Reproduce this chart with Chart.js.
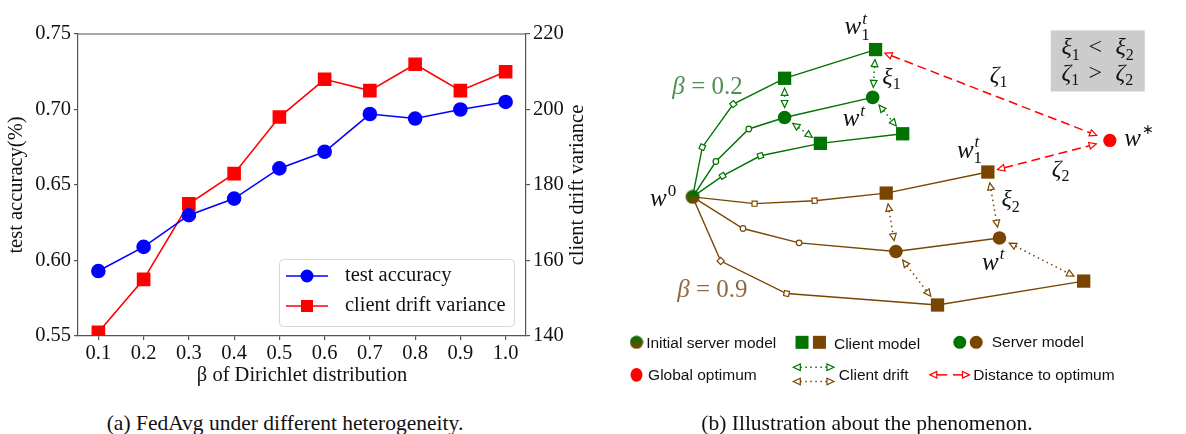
<!DOCTYPE html>
<html>
<head>
<meta charset="utf-8">
<script src="https://cdn.jsdelivr.net/npm/chart.js@4.4.1/dist/chart.umd.min.js"></script>
<style>
  body { margin: 0; background: #fff; }
  #page { position: relative; width: 1186px; height: 434px; overflow: hidden; background: #fff; }
  .cap { position: absolute; top: 410px; font: 21.5px 'Liberation Serif', 'Times New Roman', serif; color: #111;
         white-space: nowrap; transform: translateX(-50%); line-height: 26px; }
</style>
</head>
<body>
<div id="page">
  <div style="position:absolute;left:0;top:0;width:600px;height:390px"><canvas id="left"></canvas></div>
  <div style="position:absolute;left:600px;top:0;width:586px;height:434px"><canvas id="right"></canvas></div>
  <div class="cap" style="left:285px">(a) FedAvg under different heterogeneity.</div>
  <div class="cap" style="left:867px">(b) Illustration about the phenomenon.</div>
</div>
<script>
// ---- panel (a) data ----
var betas = [0.1, 0.2, 0.3, 0.4, 0.5, 0.6, 0.7, 0.8, 0.9, 1.0];
var testAccuracy = [0.593, 0.609, 0.630, 0.641, 0.661, 0.672, 0.697, 0.694, 0.700, 0.705];
var driftVariance = [141, 155, 175, 183, 198, 208, 205, 212, 205, 210];
var accTicks = [0.55, 0.60, 0.65, 0.70, 0.75];
var varTicks = [140, 160, 180, 200, 220];

// ---- panel (b) illustration points (drawing units = page pixels) ----
var greenClientA = [[686, 196], [696, 144], [728, 99], [781, 72], [875, 42]];
var greenServer  = [[686, 196], [710, 159], [744, 125], [781, 113], [872, 92]];
var greenClientB = [[686, 196], [717, 174], [756, 153], [818, 140], [903, 130]];
var brownClientA = [[686, 196], [750, 203], [812, 200], [886, 192], [991, 170]];
var brownServer  = [[686, 196], [738, 229], [796, 244], [896, 253], [1003, 239]];
var brownClientB = [[686, 196], [715, 263], [783, 297], [939, 309], [1090, 284]];
var initModel = [686, 196];
var globalOptimum = [1117, 137];

var serif = "'Liberation Serif', 'Times New Roman', serif";
var sans = "'Liberation Sans', Arial, sans-serif";
var axisGray = '#555555';
var green = '#007300';
var brown = '#7a4500';
var red = '#ff0000';
var fs = 20.5;

function ticksFrom(list) {
  return function (scale) { scale.ticks = list.map(function (v) { return { value: v }; }); };
}

// frame, right axis title and inner legend for panel (a)
var frameLegend = {
  id: 'frameLegend',
  afterDraw: function (chart) {
    var ctx = chart.ctx, a = chart.chartArea;
    ctx.save();
    ctx.strokeStyle = axisGray;
    ctx.lineWidth = 1.2;
    ctx.beginPath();
    ctx.moveTo(a.left, a.top); ctx.lineTo(a.right, a.top);
    ctx.stroke();

    // right axis title, reading bottom to top
    ctx.save();
    ctx.translate(578, (a.top + a.bottom) / 2);
    ctx.rotate(-Math.PI / 2);
    ctx.font = fs + 'px ' + serif;
    ctx.fillStyle = '#111';
    ctx.textAlign = 'center';
    ctx.textBaseline = 'middle';
    ctx.fillText('client drift variance', 0, 0);
    ctx.restore();

    // legend box
    ctx.beginPath();
    ctx.roundRect(279.5, 259.5, 235, 67, 4);
    ctx.fillStyle = 'rgba(255,255,255,0.85)';
    ctx.fill();
    ctx.strokeStyle = '#d6d6d6';
    ctx.lineWidth = 1;
    ctx.stroke();

    chart.data.datasets.forEach(function (ds, i) {
      var y = 276 + i * 30;
      ctx.strokeStyle = ds.borderColor;
      ctx.lineWidth = 1.6;
      ctx.beginPath(); ctx.moveTo(286, y); ctx.lineTo(328, y); ctx.stroke();
      ctx.fillStyle = ds.backgroundColor;
      if (ds.pointStyle === 'rect') {
        ctx.fillRect(301, y - 6, 12, 12);
      } else {
        ctx.beginPath(); ctx.arc(307, y, 6.5, 0, Math.PI * 2); ctx.fill();
      }
      ctx.fillStyle = '#111';
      ctx.font = fs + 'px ' + serif;
      ctx.textBaseline = 'middle';
      ctx.fillText(ds.label, 345, y);
    });
    ctx.restore();
  }
};

new Chart(document.getElementById('left'), {
  type: 'line',
  data: {
    datasets: [
      {
        label: 'test accuracy',
        data: betas.map(function (b, i) { return { x: b, y: testAccuracy[i] }; }),
        yAxisID: 'y',
        borderColor: '#0000ff', backgroundColor: '#0000ff',
        borderWidth: 1.6, pointStyle: 'circle', pointRadius: 6.5, pointHoverRadius: 6.5
      },
      {
        label: 'client drift variance',
        data: betas.map(function (b, i) { return { x: b, y: driftVariance[i] }; }),
        yAxisID: 'y1',
        borderColor: '#ff0000', backgroundColor: '#ff0000',
        borderWidth: 1.6, pointStyle: 'rect', pointRadius: 8.5, pointHoverRadius: 8.5
      }
    ]
  },
  options: {
    responsive: true, maintainAspectRatio: false, animation: false, devicePixelRatio: 1,
    layout: { padding: { top: 34, left: 0, right: 0, bottom: 0 } },
    plugins: { legend: { display: false }, tooltip: { enabled: false } },
    scales: {
      x: {
        type: 'linear', min: 0.055, max: 1.045,
        afterBuildTicks: ticksFrom(betas),
        afterFit: function (s) { s.height = 54; },
        grid: { drawOnChartArea: false, tickLength: 4, color: axisGray, lineWidth: 1.2 },
        border: { color: axisGray, width: 1.2 },
        ticks: { font: { family: serif, size: fs }, color: '#111', padding: 1, maxRotation: 0, autoSkip: false,
                 callback: function (v) { return v.toFixed(1); } },
        title: { display: true, text: 'β of Dirichlet distribution', font: { family: serif, size: fs }, color: '#111',
                 padding: { top: 0, bottom: 2 } }
      },
      y: {
        position: 'left', min: 0.55, max: 0.75,
        afterBuildTicks: ticksFrom(accTicks),
        afterFit: function (s) { s.width = 78; },
        grid: { drawOnChartArea: false, tickLength: 4, color: axisGray, lineWidth: 1.2 },
        border: { color: axisGray, width: 1.2 },
        ticks: { font: { family: serif, size: fs }, color: '#111', padding: 3,
                 callback: function (v) { return v.toFixed(2); } },
        title: { display: true, text: 'test accuracy(%)', font: { family: serif, size: fs }, color: '#111',
                 padding: { top: 4, bottom: 0 } }
      },
      y1: {
        position: 'right', min: 140, max: 220,
        afterBuildTicks: ticksFrom(varTicks),
        afterFit: function (s) { s.width = 74; },
        grid: { drawOnChartArea: false, tickLength: 4, color: axisGray, lineWidth: 1.2 },
        border: { color: axisGray, width: 1.2 },
        ticks: { font: { family: serif, size: fs }, color: '#111', padding: 3 },
        title: { display: false }
      }
    }
  },
  plugins: [frameLegend]
});

// ---------------- panel (b) ----------------
var initImg = document.createElement('canvas');
initImg.width = 15; initImg.height = 15;
(function () {
  var gc = initImg.getContext('2d');
  var grad = gc.createLinearGradient(0, 0, 0, 15);
  grad.addColorStop(0, green); grad.addColorStop(1, brown);
  gc.fillStyle = grad;
  gc.beginPath(); gc.arc(7.5, 7.5, 7, 0, Math.PI * 2); gc.fill();
})();

// kinds of marks along each path
var clientKinds = ['none', 'step', 'step', 'model', 'model'];
var serverKinds = ['none', 'dot', 'dot', 'server', 'server'];

function pathDataset(pts, kinds, color) {
  var rot = pts.map(function (p, i) {
    var a = pts[Math.max(0, i - 1)], b = pts[Math.min(pts.length - 1, i + 1)];
    return Math.atan2(b[1] - a[1], b[0] - a[0]) * 180 / Math.PI;
  });
  return {
    data: pts.map(function (p) { return { x: p[0], y: p[1] }; }),
    showLine: true, borderColor: color, borderWidth: 1.4, tension: 0,
    pointStyle: kinds.map(function (k) { return (k === 'step' || k === 'model') ? 'rect' : 'circle'; }),
    pointRadius: kinds.map(function (k) {
      return { none: 0, step: 3.6, dot: 2.8, model: 9.4, server: 6.8 }[k];
    }),
    pointRotation: kinds.map(function (k, i) { return k === 'step' ? rot[i] : 0; }),
    pointBackgroundColor: kinds.map(function (k) { return (k === 'step' || k === 'dot') ? '#ffffff' : color; }),
    pointBorderColor: color,
    pointBorderWidth: kinds.map(function (k) { return (k === 'step' || k === 'dot') ? 1.2 : 0; }),
    pointHoverRadius: 0
  };
}

var driftGreen = [[greenClientA[3], greenServer[3]], [greenServer[3], greenClientB[3]],
                  [greenClientA[4], greenServer[4]], [greenServer[4], greenClientB[4]]];
var driftBrown = [[brownClientA[3], brownServer[3]], [brownServer[3], brownClientB[3]],
                  [brownClientA[4], brownServer[4]], [brownServer[4], brownClientB[4]]];
var distancePairs = [[greenClientA[4], globalOptimum], [brownClientA[4], globalOptimum]];

function tri(ctx, tx, ty, ux, uy, color) {
  var bx = tx - ux * 7, by = ty - uy * 7, px = -uy, py = ux;
  ctx.beginPath();
  ctx.moveTo(tx, ty);
  ctx.lineTo(bx + px * 3.3, by + py * 3.3);
  ctx.lineTo(bx - px * 3.3, by - py * 3.3);
  ctx.closePath();
  ctx.fillStyle = '#fff'; ctx.fill();
  ctx.strokeStyle = color; ctx.lineWidth = 1.2; ctx.setLineDash([]); ctx.stroke();
}

function arrow(ctx, x1, y1, x2, y2, color, dash, s1, s2, lw) {
  var dx = x2 - x1, dy = y2 - y1, L = Math.hypot(dx, dy), ux = dx / L, uy = dy / L;
  var ax = x1 + ux * s1, ay = y1 + uy * s1, bx = x2 - ux * s2, by = y2 - uy * s2;
  ctx.save();
  ctx.strokeStyle = color; ctx.lineWidth = lw; ctx.setLineDash(dash);
  ctx.beginPath(); ctx.moveTo(ax + ux * 7, ay + uy * 7); ctx.lineTo(bx - ux * 7, by - uy * 7); ctx.stroke();
  tri(ctx, ax, ay, -ux, -uy, color);
  tri(ctx, bx, by, ux, uy, color);
  ctx.restore();
}

// math-like label: main glyph, then sup and/or sub stacked after it
function sym(ctx, x, y, main, sup, sub, color, size) {
  ctx.save();
  ctx.fillStyle = color || '#111';
  ctx.textBaseline = 'alphabetic';
  ctx.font = 'italic ' + size + 'px ' + serif;
  ctx.fillText(main, x, y);
  var w = ctx.measureText(main).width;
  var small = Math.round(size * 0.68);
  var extra = 0;
  if (sup) {
    var star = sup === '∗';
    ctx.font = (/[0-9∗]/.test(sup) ? '' : 'italic ') + (star ? Math.round(size * 0.55) : small) + 'px ' + serif;
    ctx.fillText(sup, x + w + 1, y - size * (star ? 0.5 : 0.42));
    extra = Math.max(extra, ctx.measureText(sup).width + 1);
  }
  if (sub) {
    ctx.font = small + 'px ' + serif;
    ctx.fillText(sub, x + w, y + size * 0.22);
    extra = Math.max(extra, ctx.measureText(sub).width);
  }
  ctx.restore();
  return w + extra;
}

var illustrate = {
  id: 'illustrate',
  beforeDatasetsDraw: function (chart) {
    var ctx = chart.ctx, X = chart.scales.x, Y = chart.scales.y;
    function px(p) { return [X.getPixelForValue(p[0]), Y.getPixelForValue(p[1])]; }
    ctx.save();
    // comparison box
    ctx.fillStyle = '#cccccc';
    ctx.fillRect(X.getPixelForValue(1056), Y.getPixelForValue(22), 94, 61);
    ctx.restore();

    driftGreen.forEach(function (pr) {
      var a = px(pr[0]), b = px(pr[1]);
      arrow(ctx, a[0], a[1], b[0], b[1], green, [1.5, 3.5], 10, 10, 1.5);
    });
    driftBrown.forEach(function (pr) {
      var a = px(pr[0]), b = px(pr[1]);
      arrow(ctx, a[0], a[1], b[0], b[1], brown, [1.5, 3.5], 11, 11, 1.5);
    });
    distancePairs.forEach(function (pr) {
      var a = px(pr[0]), b = px(pr[1]);
      arrow(ctx, a[0], a[1], b[0], b[1], red, [9, 5], 10, 14, 1.5);
    });
  },
  afterDatasetsDraw: function (chart) {
    var ctx = chart.ctx, X = chart.scales.x, Y = chart.scales.y;
    function sx(v) { return X.getPixelForValue(v); }
    function sy(v) { return Y.getPixelForValue(v); }
    var ink = '#111';
    // node labels
    sym(ctx, sx(843), sy(26), 'w', 't', '1', ink, 25);
    sym(ctx, sx(841), sy(122), 'w', 't', null, ink, 25);
    sym(ctx, sx(882), sy(78), 'ξ', null, '1', ink, 24);
    sym(ctx, sx(642), sy(206), 'w', '0', null, ink, 25);
    sym(ctx, sx(959), sy(155), 'w', 't', '1', ink, 25);
    sym(ctx, sx(1005), sy(206), 'ξ', null, '2', ink, 24);
    sym(ctx, sx(985), sy(272), 'w', 't', null, ink, 25);
    sym(ctx, sx(1132), sy(143), 'w', '∗', null, ink, 25);
    sym(ctx, sx(993), sy(76), 'ζ', null, '1', ink, 24);
    sym(ctx, sx(1057), sy(174), 'ζ', null, '2', ink, 24);

    ctx.save();
    ctx.font = 'italic 25px ' + serif;
    ctx.fillStyle = '#4f8f4f';
    ctx.fillText('β', sx(665), sy(88));
    ctx.font = '25px ' + serif;
    ctx.fillText(' = 0.2', sx(678), sy(88));
    ctx.fillStyle = '#8e6a45';
    ctx.font = 'italic 25px ' + serif;
    ctx.fillText('β', sx(670), sy(301));
    ctx.font = '25px ' + serif;
    ctx.fillText(' = 0.9', sx(683), sy(301));
    ctx.restore();

    // comparison text
    var x0 = sx(1067);
    ctx.save(); ctx.font = '24px ' + serif; ctx.fillStyle = ink;
    sym(ctx, x0, sy(47), 'ξ', null, '1', ink, 24);
    ctx.fillText('<', x0 + 27, sy(47));
    sym(ctx, x0 + 54, sy(47), 'ξ', null, '2', ink, 24);
    sym(ctx, x0, sy(74), 'ζ', null, '1', ink, 24);
    ctx.fillText('>', x0 + 27, sy(74));
    sym(ctx, x0 + 54, sy(74), 'ζ', null, '2', ink, 24);
    ctx.restore();

    // bottom legend
    ctx.save();
    ctx.font = '15.5px ' + sans;
    ctx.fillStyle = '#111';
    ctx.textBaseline = 'middle';
    ctx.drawImage(initImg, sx(628) - 7, sy(348) - 7, 14, 14);
    ctx.fillText('Initial server model', sx(638), sy(349));
    ctx.fillStyle = green; ctx.fillRect(sx(799) - 6.5, sy(348) - 6.5, 13, 13);
    ctx.fillStyle = brown; ctx.fillRect(sx(817) - 6.5, sy(348) - 6.5, 13, 13);
    ctx.fillStyle = '#111'; ctx.fillText('Client model', sx(832), sy(350));
    ctx.fillStyle = green; ctx.beginPath(); ctx.arc(sx(962), sy(348), 6.5, 0, Math.PI * 2); ctx.fill();
    ctx.fillStyle = brown; ctx.beginPath(); ctx.arc(sx(979), sy(348), 6.5, 0, Math.PI * 2); ctx.fill();
    ctx.fillStyle = '#111'; ctx.fillText('Server model', sx(995), sy(348));
    ctx.fillStyle = red; ctx.beginPath(); ctx.ellipse(sx(628), sy(382), 6, 6.8, 0, 0, Math.PI * 2); ctx.fill();
    ctx.fillStyle = '#111'; ctx.fillText('Global optimum', sx(640), sy(383));
    arrow(ctx, sx(790), sy(374), sx(832), sy(374), green, [1.5, 3.5], 0, 0, 1.5);
    arrow(ctx, sx(790), sy(389), sx(832), sy(389), brown, [1.5, 3.5], 0, 0, 1.5);
    ctx.fillStyle = '#111'; ctx.fillText('Client drift', sx(837), sy(383));
    // distance to optimum: two short separate arrows
    ctx.strokeStyle = red; ctx.lineWidth = 1.5;
    ctx.beginPath(); ctx.moveTo(sx(937), sy(382)); ctx.lineTo(sx(949), sy(382)); ctx.stroke();
    tri(ctx, sx(931), sy(382), -1, 0, red);
    ctx.strokeStyle = red; ctx.lineWidth = 1.5;
    ctx.beginPath(); ctx.moveTo(sx(955), sy(382)); ctx.lineTo(sx(965), sy(382)); ctx.stroke();
    tri(ctx, sx(972), sy(382), 1, 0, red);
    ctx.fillStyle = '#111'; ctx.fillText('Distance to optimum', sx(976), sy(383));
    ctx.restore();
  }
};

new Chart(document.getElementById('right'), {
  type: 'scatter',
  data: {
    datasets: [
      pathDataset(greenClientA, clientKinds, green),
      pathDataset(greenServer, serverKinds, green),
      pathDataset(greenClientB, clientKinds, green),
      pathDataset(brownClientA, clientKinds, brown),
      pathDataset(brownServer, serverKinds, brown),
      pathDataset(brownClientB, clientKinds, brown),
      { data: [{ x: globalOptimum[0], y: globalOptimum[1] }], pointStyle: 'circle', pointRadius: 6.6,
        pointBackgroundColor: red, pointBorderWidth: 0, pointHoverRadius: 0 },
      { data: [{ x: initModel[0], y: initModel[1] }], pointStyle: initImg, pointRadius: 7, pointHoverRadius: 0 }
    ]
  },
  options: {
    responsive: true, maintainAspectRatio: false, animation: false, devicePixelRatio: 1,
    layout: { padding: 0 },
    clip: false,
    plugins: { legend: { display: false }, tooltip: { enabled: false } },
    scales: {
      x: { type: 'linear', min: 600, max: 1186, display: false },
      y: { type: 'linear', min: 0, max: 434, reverse: true, display: false }
    }
  },
  plugins: [illustrate]
});
</script>
</body>
</html>
